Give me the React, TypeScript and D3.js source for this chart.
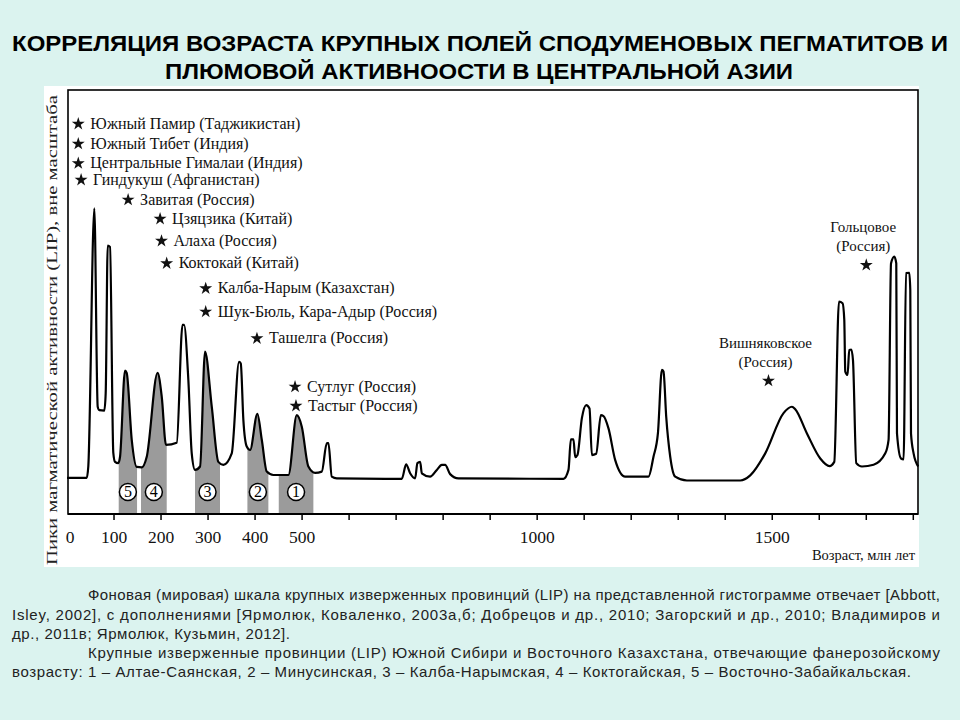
import React from 'react';
import * as d3 from 'd3';

// ---- Data ----
const ages = [0, 41.9, 45.3, 58.1, 65.3, 68.7, 79.4, 82.3, 86.6, 91.5, 98.5, 102.1, 109.1, 112.8, 123.4, 127.0, 137.7, 148.3, 158.9, 169.6, 192.6, 201.5, 210.6, 233.4, 245.7, 248.9, 258.1, 265.3, 272.3, 283.0, 293.6, 307.9, 321.9, 332.6, 350.4, 366.0, 369.6, 375.1, 382.3, 389.4, 404.9, 414.3, 424.9, 439.0, 470.9, 488.7, 499.4, 513.4, 527.7, 541.9, 552.6, 556.0, 563.2, 573.8, 712.1, 721.3, 729.8, 740.4, 745.3, 751.1, 754.7, 772.3, 786.6, 797.2, 804.3, 814.9, 832.6, 1056.0, 1066.6, 1071.7, 1077.2, 1080.9, 1085.7, 1095.1, 1104.3, 1111.3, 1116.4, 1125.5, 1135.5, 1141.1, 1151.7, 1166.0, 1187.2, 1236.8, 1247.4, 1256.8, 1265.3, 1268.7, 1274.5, 1283.0, 1293.6, 1318.5, 1431.9, 1453.2, 1485.1, 1524.0, 1541.9, 1548.9, 1573.8, 1602.1, 1621.9, 1631.9, 1641.9, 1649.6, 1653.2, 1655.3, 1660.2, 1663.8, 1668.1, 1671.7, 1678.7, 1690.9, 1715.5, 1740.4, 1747.4, 1752.6, 1759.6, 1763.8, 1765.3, 1773.8, 1779.4, 1784.5, 1791.5, 1793.6, 1795.1, 1800.6, 1810.6];
const levels = [8.5, 8.5, 11.2, 72.1, 25.3, 24.5, 24.4, 28.5, 63.3, 63.0, 14.4, 12.3, 12.0, 13.5, 33.8, 33.3, 17.5, 11.1, 11.0, 13.5, 33.3, 27.7, 16.3, 16.8, 44.6, 44.6, 31.6, 14.3, 10.4, 11.2, 38.3, 25.3, 12.3, 11.6, 14.3, 35.9, 35.5, 22.2, 15.9, 15.1, 23.6, 17.5, 10.0, 9.2, 9.2, 23.3, 20.6, 11.2, 9.7, 10.0, 16.7, 16.7, 8.8, 8.4, 8.3, 11.7, 9.6, 8.4, 12.0, 12.3, 9.6, 8.8, 10.4, 11.6, 11.6, 9.4, 8.4, 8.3, 10.4, 17.6, 17.6, 13.4, 13.9, 22.6, 25.7, 24.9, 13.9, 14.2, 23.3, 23.1, 20.2, 12.7, 8.8, 8.8, 13.5, 19.0, 34.0, 33.6, 22.9, 13.5, 8.8, 7.9, 7.9, 9.1, 14.3, 23.8, 25.3, 24.7, 19.0, 13.1, 11.3, 12.3, 50.1, 49.7, 45.8, 33.6, 32.8, 38.7, 38.8, 36.3, 12.0, 11.2, 11.6, 14.3, 17.5, 59.1, 60.7, 59.1, 19.0, 13.1, 12.9, 56.8, 56.9, 52.8, 19.0, 14.3, 11.2];

const bandLabels = ['5', '4', '3', '2', '1'];
const bandStart = [110, 157.4, 272.3, 383.7, 450.4];
const bandEnd = [149, 212.1, 325.5, 428.3, 524];

const starNames = [
  'Южный Памир (Таджикистан)',
  'Южный Тибет (Индия)',
  'Центральные Гималаи (Индия)',
  'Гиндукуш (Афганистан)',
  'Завитая (Россия)',
  'Цзяцзика (Китай)',
  'Алаха (Россия)',
  'Коктокай (Китай)',
  'Калба-Нарым (Казахстан)',
  'Шук-Бюль, Кара-Адыр (Россия)',
  'Ташелга (Россия)',
  'Сутлуг (Россия)',
  'Тастыг (Россия)',
];
const starAges = [24, 24, 24, 30, 130, 198, 201, 212, 295, 295, 404, 485, 487];
const starLevels = [92, 87.3, 82.7, 78.8, 74.1, 69.6, 64.4, 59.1, 53.2, 47.7, 41.4, 30, 25.5];

const topNames = ['Вишняковское', 'Гольцовое'];
const topSub = ['(Россия)', '(Россия)'];
const topAges = [1492, 1700];
const topLevels = [31.4, 58.7];

const labeledTicks = [0, 100, 200, 300, 400, 500, 1000, 1500];
const allTicks = d3.range(100, 1900, 100);

const titleLines = [
  'КОРРЕЛЯЦИЯ ВОЗРАСТА КРУПНЫХ ПОЛЕЙ СПОДУМЕНОВЫХ ПЕГМАТИТОВ И',
  'ПЛЮМОВОЙ АКТИВНООСТИ В ЦЕНТРАЛЬНОЙ АЗИИ',
];
const captionLines = [
  'Фоновая (мировая) шкала крупных изверженных провинций (LIP) на представленной гистограмме отвечает [Abbott,',
  'Isley, 2002], с дополнениями [Ярмолюк, Коваленко, 2003а,б; Добрецов и др., 2010; Загорский и др., 2010; Владимиров и',
  'др., 2011в; Ярмолюк, Кузьмин, 2012].',
  'Крупные изверженные провинции (LIP) Южной Сибири и Восточного Казахстана, отвечающие фанерозойскому',
  'возрасту: 1 – Алтае-Саянская, 2 – Минусинская, 3 – Калба-Нарымская, 4 – Коктогайская, 5 – Восточно-Забайкальская.',
];
const yLabel = 'Пики магматической активности (LIP), вне масштаба';
const xLabel = 'Возраст, млн лет';

// ---- Layout ----
const W = 960;
const H = 720;
const plotL = 67;
const plotR = 918;
const plotT = 90;
const plotB = 514;
const BG = '#dbf3ef';
const SERIF = '"Liberation Serif", "Times New Roman", serif';
const SANS = '"Liberation Sans", Arial, sans-serif';
const NARROW = '"Liberation Sans Narrow", "Liberation Sans", Arial, sans-serif';

export default function App() {
  if (typeof document !== 'undefined') {
    document.body.style.margin = '0';
    document.body.style.background = BG;
  }
  const x = d3.scaleLinear().domain([0, 1810]).range([plotL, plotR]);
  const y = d3.scaleLinear().domain([0, 100]).range([plotB, plotT]);
  const pts = ages.map((a, i) => [a, levels[i]] as [number, number]);
  const line = d3.line<[number, number]>().x(d => x(d[0])).y(d => y(d[1])).curve(d3.curveMonotoneX);
  const area = d3.area<[number, number]>().x(d => x(d[0])).y0(y(0)).y1(d => y(d[1])).curve(d3.curveMonotoneX);
  const star = d3.symbol().type(d3.symbolStar).size(52)();
  const circleLevel = 5.2;

  const capExtents = [
    [88, 852], [12, 928], [12, 278], [88, 852], [12, 899],
  ];
  const capBase = [600, 619.5, 638.5, 658, 677];

  return (
    <svg width={W} height={H} style={{ position: 'absolute', left: 0, top: 0, display: 'block' }}>
      <rect x={0} y={0} width={W} height={H} fill={BG} />
      {/* Title */}
      <text x={12} y={51} fontFamily={NARROW} fontWeight="bold" fontSize={22} textLength={936} lengthAdjust="spacingAndGlyphs" fill="#000">{titleLines[0]}</text>
      <text x={165} y={79} fontFamily={NARROW} fontWeight="bold" fontSize={22} textLength={628} lengthAdjust="spacingAndGlyphs" fill="#000">{titleLines[1]}</text>

      {/* White panel */}
      <rect x={44} y={86} width={875} height={481} fill="#fff" />

      <defs>
        {bandLabels.map((b, i) => (
          <clipPath id={`band${i}`} key={b}>
            <rect x={x(bandStart[i])} y={plotT} width={x(bandEnd[i]) - x(bandStart[i])} height={plotB - plotT} />
          </clipPath>
        ))}
      </defs>
      {bandLabels.map((b, i) => (
        <path key={b} d={area(pts) || ''} fill="#9b9b9b" clipPath={`url(#band${i})`} />
      ))}

      {/* frame */}
      <rect x={plotL + 1} y={plotT} width={plotR - plotL - 1} height={plotB - plotT} fill="none" stroke="#000" strokeWidth={1.6} />
      <line x1={plotL + 1} x2={plotR} y1={plotB} y2={plotB} stroke="#000" strokeWidth={2.2} />
      {allTicks.map(t => (
        <line key={t} x1={x(t)} x2={x(t)} y1={plotB} y2={plotB + 6} stroke="#000" strokeWidth={1.5} />
      ))}
      {labeledTicks.map(t => (
        <text key={t} x={x(t) + (t === 0 ? 3 : 0)} y={543} textAnchor="middle" fontFamily={SERIF} fontSize={17.5} fill="#111">{t}</text>
      ))}
      <text x={915} y={560} textAnchor="end" fontFamily={SERIF} fontSize={14.5} fill="#111">{xLabel}</text>
      <text transform="translate(57,565) rotate(-90)" fontFamily={SERIF} fontSize={15} textLength={470} lengthAdjust="spacingAndGlyphs" fill="#222">{yLabel}</text>

      {/* curve */}
      <path d={line(pts) || ''} fill="none" stroke="#000" strokeWidth={2.2} strokeLinejoin="round" />

      {/* band numbers */}
      {bandLabels.map((b, i) => {
        const cx = x((bandStart[i] + bandEnd[i]) / 2);
        const cy = y(circleLevel);
        return (
          <g key={b}>
            <circle cx={cx} cy={cy} r={8.5} fill="#fff" stroke="#000" strokeWidth={1.5} />
            <text x={cx} y={cy + 5.5} textAnchor="middle" fontFamily={SERIF} fontSize={16} fill="#000">{b}</text>
          </g>
        );
      })}

      {/* star labels */}
      {starNames.map((n, i) => (
        <g key={n}>
          <path d={star || ''} transform={`translate(${x(starAges[i])},${y(starLevels[i])})`} fill="#111" />
          <text x={x(starAges[i]) + 12} y={y(starLevels[i]) + 5} fontFamily={SERIF} fontSize={16} fill="#111">{n}</text>
        </g>
      ))}
      {topNames.map((n, i) => (
        <g key={n}>
          <path d={star || ''} transform={`translate(${x(topAges[i])},${y(topLevels[i])})`} fill="#111" />
          <text x={x(topAges[i]) - 3} y={y(topLevels[i]) - 33} textAnchor="middle" fontFamily={SERIF} fontSize={15} fill="#111">{n}</text>
          <text x={x(topAges[i]) - 3} y={y(topLevels[i]) - 14} textAnchor="middle" fontFamily={SERIF} fontSize={15} fill="#111">{topSub[i]}</text>
        </g>
      ))}

      {/* caption */}
      {captionLines.map((c, i) => (
        <text key={i} x={capExtents[i][0]} y={capBase[i]} fontFamily={SANS} fontSize={15} textLength={capExtents[i][1]} lengthAdjust="spacing" fill="#222">{c}</text>
      ))}
    </svg>
  );
}
